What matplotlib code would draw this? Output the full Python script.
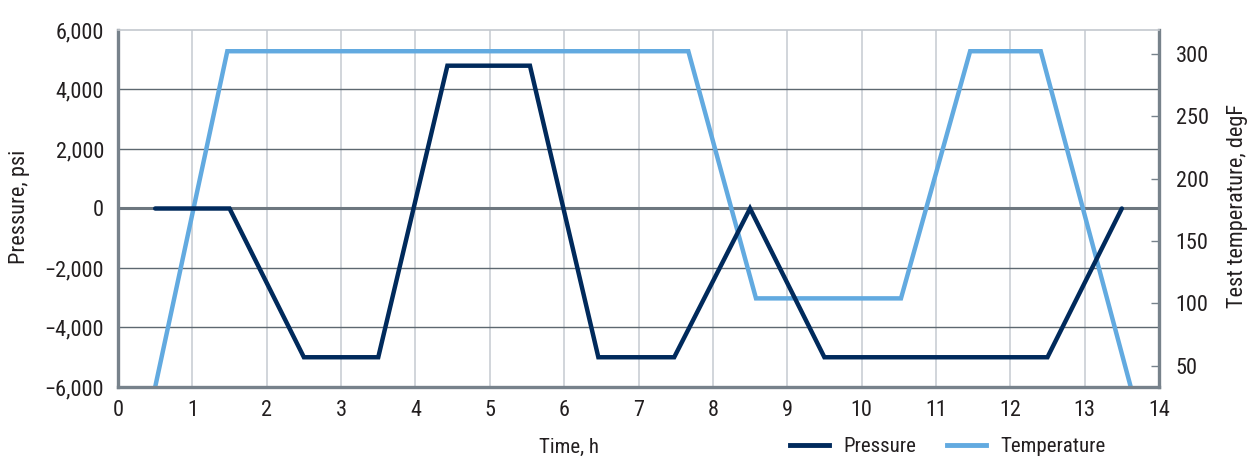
import matplotlib.pyplot as plt
from matplotlib.lines import Line2D
import matplotlib.transforms as mtransforms
from matplotlib import font_manager as fm

# pick a condensed face if one is installed
installed = {f.name for f in fm.fontManager.ttflist}
family = 'DejaVu Sans'
for cand in ['Roboto Condensed', 'Liberation Sans Narrow', 'Open Sans Condensed', 'Roboto']:
    if cand in installed:
        family = cand
        break
plt.rcParams['font.family'] = [family, 'DejaVu Sans']

# pressure profile (psi) vs time (h)
time_p = [0.5, 1.5, 2.5, 3.5, 4.43, 5.54, 6.46, 7.48, 8.5, 9.5, 12.5, 13.5]
pressure = [0, 0, -5000, -5000, 4800, 4800, -5000, -5000, 0, -5000, -5000, 0]

# temperature profile (degF) vs time (h)
time_t = [0.5, 1.47, 7.67, 8.58, 10.53, 11.46, 12.41, 13.62]
temp = [33, 302, 302, 104, 104, 302, 302, 33]

hours = list(range(0, 15))
p_ticks = [-6000, -4000, -2000, 0, 2000, 4000, 6000]
t_ticks = [50, 100, 150, 200, 250, 300]

navy = '#002a5c'
sky = '#62aae0'
spine_c = '#77828b'
text_c = '#231f20'

fig = plt.figure(figsize=(12.56, 4.59), dpi=100)
ax = fig.add_axes([118 / 1256, 1 - 387 / 459, (1159 - 118) / 1256, (387 - 30) / 459])
ax2 = ax.twinx()
ax.set_zorder(ax2.get_zorder() + 1)
ax.patch.set_visible(False)

ax.set_xlim(0, 14)
ax.set_ylim(-6000, 6000)
ax2.set_ylim(33, 319)

# grid drawn on the back axes so the temperature line sits on it
for h in hours[1:-1]:
    ax2.axvline(h, color='#c9ced4', lw=1.2, zorder=0)
blend = mtransforms.blended_transform_factory(ax2.transAxes, ax.transData)
for p in p_ticks[1:-1]:
    if p == 0:
        ax2.add_line(Line2D([0, 1], [p, p], transform=blend, color='#6d777f', lw=2.2, zorder=0.5))
    else:
        ax2.add_line(Line2D([0, 1], [p, p], transform=blend, color='#5d6870', lw=1.0, zorder=0.5))

ax2.plot(time_t, temp, color=sky, lw=3.2, solid_joinstyle='miter', zorder=2)
ax.plot(time_p, pressure, color=navy, lw=3.2, solid_joinstyle='miter',
        solid_capstyle='round', zorder=3)

ax.set_xticks(hours)
ax.set_yticks(p_ticks)
ax.set_yticklabels([f'{v:,.0f}'.replace('-', '\u2212') for v in p_ticks])
ax.tick_params(axis='both', length=0, labelsize=16, labelcolor=text_c)
ax.tick_params(axis='x', pad=9)
ax.tick_params(axis='y', pad=10)

ax2.set_yticks(t_ticks)
ax2.tick_params(axis='y', direction='in', length=6, width=1, color=spine_c,
                labelsize=16, labelcolor=text_c, pad=12)

for s in ['left', 'bottom', 'right']:
    ax.spines[s].set_color(spine_c)
    ax.spines[s].set_linewidth(2.4)
ax.spines['top'].set_color('#c3c8ce')
ax.spines['top'].set_linewidth(1.2)
for s in ax2.spines.values():
    s.set_visible(False)

fig.text(20 / 1256, 1 - 207 / 459, 'Pressure, psi', rotation=90, ha='center', va='center',
         fontsize=16, color=text_c)
fig.text(1237 / 1256, 1 - 206 / 459, 'Test temperature, degF', rotation=90, ha='center',
         va='center', fontsize=16, color=text_c)
fig.text(569 / 1256, 1 - 447 / 459, 'Time, h', ha='center', va='center', fontsize=15, color=text_c)

handles = [Line2D([], [], color=navy, lw=3.5), Line2D([], [], color=sky, lw=3.5)]
leg = fig.legend(handles, ['Pressure', 'Temperature'], loc='center left',
                 bbox_to_anchor=(790 / 1256, 1 - 447 / 459), ncol=2, frameon=False,
                 handlelength=1.85, handletextpad=0.7, columnspacing=1.5,
                 borderpad=0, borderaxespad=0, fontsize=15)
for t in leg.get_texts():
    t.set_color(text_c)

fig.savefig('out.png', dpi=100)
